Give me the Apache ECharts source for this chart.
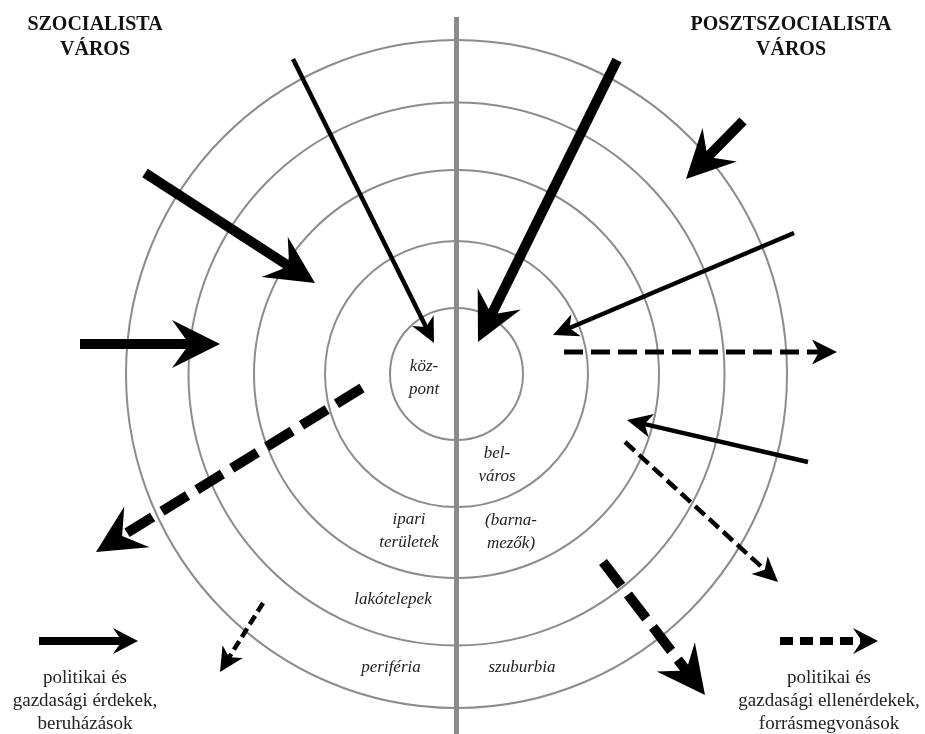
<!DOCTYPE html>
<html>
<head>
<meta charset="utf-8">
<title>Szocialista és posztszocialista város</title>
<script src="https://cdn.jsdelivr.net/npm/echarts@6/dist/echarts.min.js"></script>
<style>
html, body { margin: 0; padding: 0; background: #fff; }
#chart { width: 925px; height: 734px; }
</style>
</head>
<body>
<div id="chart"></div>
<script>
// gyűrűk félátmérői (diagram egység, a városközpont a 0,0 pont)
var ringRadiusX = [66.5, 131.5, 202.5, 268, 330.5];
var ringRadiusY = [66, 133, 204, 271.5, 334];

// függőleges elválasztó vonal
var dividerLine = [[0, 357, 0, -360]];

// politikai és gazdasági érdekek, beruházások: [x1, y1, x2, y2]
var interestArrows = [
	[-163.5, 315, -22.5, 31],
	[-311.5, 201, -141.5, 91],
	[-376.5, 30, -236.5, 30],
	[160.5, 314, 21.5, 32],
	[286.5, 253, 229.5, 195],
	[337.5, 141, 96.5, 39],
	[351.5, -88, 170.5, -46]
];
var interestWeights = ['thin', 'thick', 'thick', 'thick', 'thick', 'thin', 'thin'];

// politikai és gazdasági ellenérdekek, forrásmegvonások
var counterArrows = [
	[-94.5, -14, -360.5, -178],
	[-193.5, -229, -236.5, -298],
	[107.5, 22, 380.5, 22],
	[168.5, -68, 321.5, -208],
	[146.5, -188, 248.5, -321]
];
var counterWeights = ['thick', 'small', 'medium', 'thin', 'thick'];

// jelmagyarázat nyilai
var legendSolid = [[-417.5, -267, -318.5, -267]];
var legendDashed = [[323.5, -267, 421.5, -267]];

var titles = ['SZOCIALISTA\nVÁROS', 'POSZTSZOCIALISTA\nVÁROS'];
var titlePoints = [[-361.5, 336.5], [334.5, 336.5]];

var zoneNames = ['köz-\npont', 'bel-\nváros', 'ipari\nterületek', '(barna-\nmezők)', 'lakótelepek', 'periféria', 'szuburbia'];
var zonePoints = [[-32.5, -4.5], [40.5, -91], [-47.5, -157.5], [54.5, -158], [-63.5, -226], [-65.5, -294], [65.5, -294]];

var legendTexts = ['politikai és\ngazdasági érdekek,\nberuházások', 'politikai és\ngazdasági ellenérdekek,\nforrásmegvonások'];
var legendTextPoints = [[-371.5, -327], [372.5, -327]];

var arrowStyles = {
	thick: {width: 10, head: 48, half: 24, notch: 0.64, dash: [30, 11]},
	medium: {width: 5, head: 25, half: 12.5, notch: 0.72, dash: [19, 8]},
	thin: {width: 4.5, head: 25, half: 12, notch: 0.72, dash: [13, 6]},
	small: {width: 4.5, head: 24, half: 12, notch: 0.72, dash: [10, 5]},
	legend: {width: 8, head: 25, half: 13, notch: 0.65, dash: [13, 7]}
};

var chart = {
	init: function(){
		var myChart = echarts.init(document.getElementById('chart'));
		myChart.setOption(chart.getOption());
	},
	arrow: function(p1, p2, st, dashed){
		var dx = p2[0] - p1[0], dy = p2[1] - p1[1];
		var len = Math.sqrt(dx * dx + dy * dy);
		var ux = dx / len, uy = dy / len;
		var nx = -uy, ny = ux;
		var bx = p2[0] - ux * st.head, by = p2[1] - uy * st.head;
		var kx = p2[0] - ux * st.head * st.notch, ky = p2[1] - uy * st.head * st.notch;
		return {
			type: 'group',
			children: [
				{
					type: 'line',
					shape: {x1: p1[0], y1: p1[1], x2: kx + ux * 2, y2: ky + uy * 2},
					style: {stroke: '#000', lineWidth: st.width, lineDash: dashed ? st.dash : null, lineCap: 'butt'}
				},
				{
					type: 'polygon',
					shape: {points: [
						[p2[0], p2[1]],
						[bx + nx * st.half, by + ny * st.half],
						[kx, ky],
						[bx - nx * st.half, by - ny * st.half]
					]},
					style: {fill: '#000'}
				}
			]
		};
	},
	arrowSeries: function(data, weights, dashed){
		return {
			type: 'custom',
			silent: true,
			data: data,
			renderItem: function(params, api){
				var p1 = api.coord([api.value(0), api.value(1)]);
				var p2 = api.coord([api.value(2), api.value(3)]);
				return chart.arrow(p1, p2, arrowStyles[weights[params.dataIndex]], dashed);
			}
		};
	},
	textSeries: function(texts, points, font, color, lineHeight){
		return {
			type: 'custom',
			silent: true,
			data: points,
			renderItem: function(params, api){
				var p = api.coord([api.value(0), api.value(1)]);
				return {
					type: 'text',
					x: p[0],
					y: p[1],
					style: {
						text: texts[params.dataIndex],
						font: font,
						fill: color,
						align: 'center',
						verticalAlign: 'middle',
						lineHeight: lineHeight
					}
				};
			}
		};
	},
	getOption: function(){
		var rings = ringRadiusX.map(function(rx, i){ return [0, 0, rx, ringRadiusY[i]]; });
		var legendW = ['legend'];
		return {
			backgroundColor: '#fff',
			animation: false,
			grid: {left: 0, right: 0, top: 0, bottom: 0},
			xAxis: {type: 'value', min: -456.5, max: 468.5, show: false},
			yAxis: {type: 'value', min: -360, max: 374, show: false},
			series: [
				{
					type: 'custom',
					silent: true,
					data: rings,
					renderItem: function(params, api){
						var c = api.coord([api.value(0), api.value(1)]);
						var s = api.size([api.value(2), api.value(3)]);
						return {
							type: 'ellipse',
							shape: {cx: c[0], cy: c[1], rx: s[0], ry: s[1]},
							style: {fill: 'none', stroke: '#8c8c8c', lineWidth: 2}
						};
					}
				},
				{
					type: 'custom',
					silent: true,
					data: dividerLine,
					renderItem: function(params, api){
						var a = api.coord([api.value(0), api.value(1)]);
						var b = api.coord([api.value(2), api.value(3)]);
						return {
							type: 'line',
							shape: {x1: a[0], y1: a[1], x2: b[0], y2: b[1]},
							style: {stroke: '#8a8a8a', lineWidth: 5}
						};
					}
				},
				chart.arrowSeries(interestArrows, interestWeights, false),
				chart.arrowSeries(counterArrows, counterWeights, true),
				chart.arrowSeries(legendSolid, legendW, false),
				chart.arrowSeries(legendDashed, legendW, true),
				chart.textSeries(titles, titlePoints, 'bold 20px "Liberation Serif"', '#111', 25),
				chart.textSeries(zoneNames, zonePoints, 'italic 17px "Liberation Serif"', '#222', 23),
				chart.textSeries(legendTexts, legendTextPoints, '19px "Liberation Serif"', '#222', 23)
			]
		};
	}
};

chart.init();
</script>
</body>
</html>
